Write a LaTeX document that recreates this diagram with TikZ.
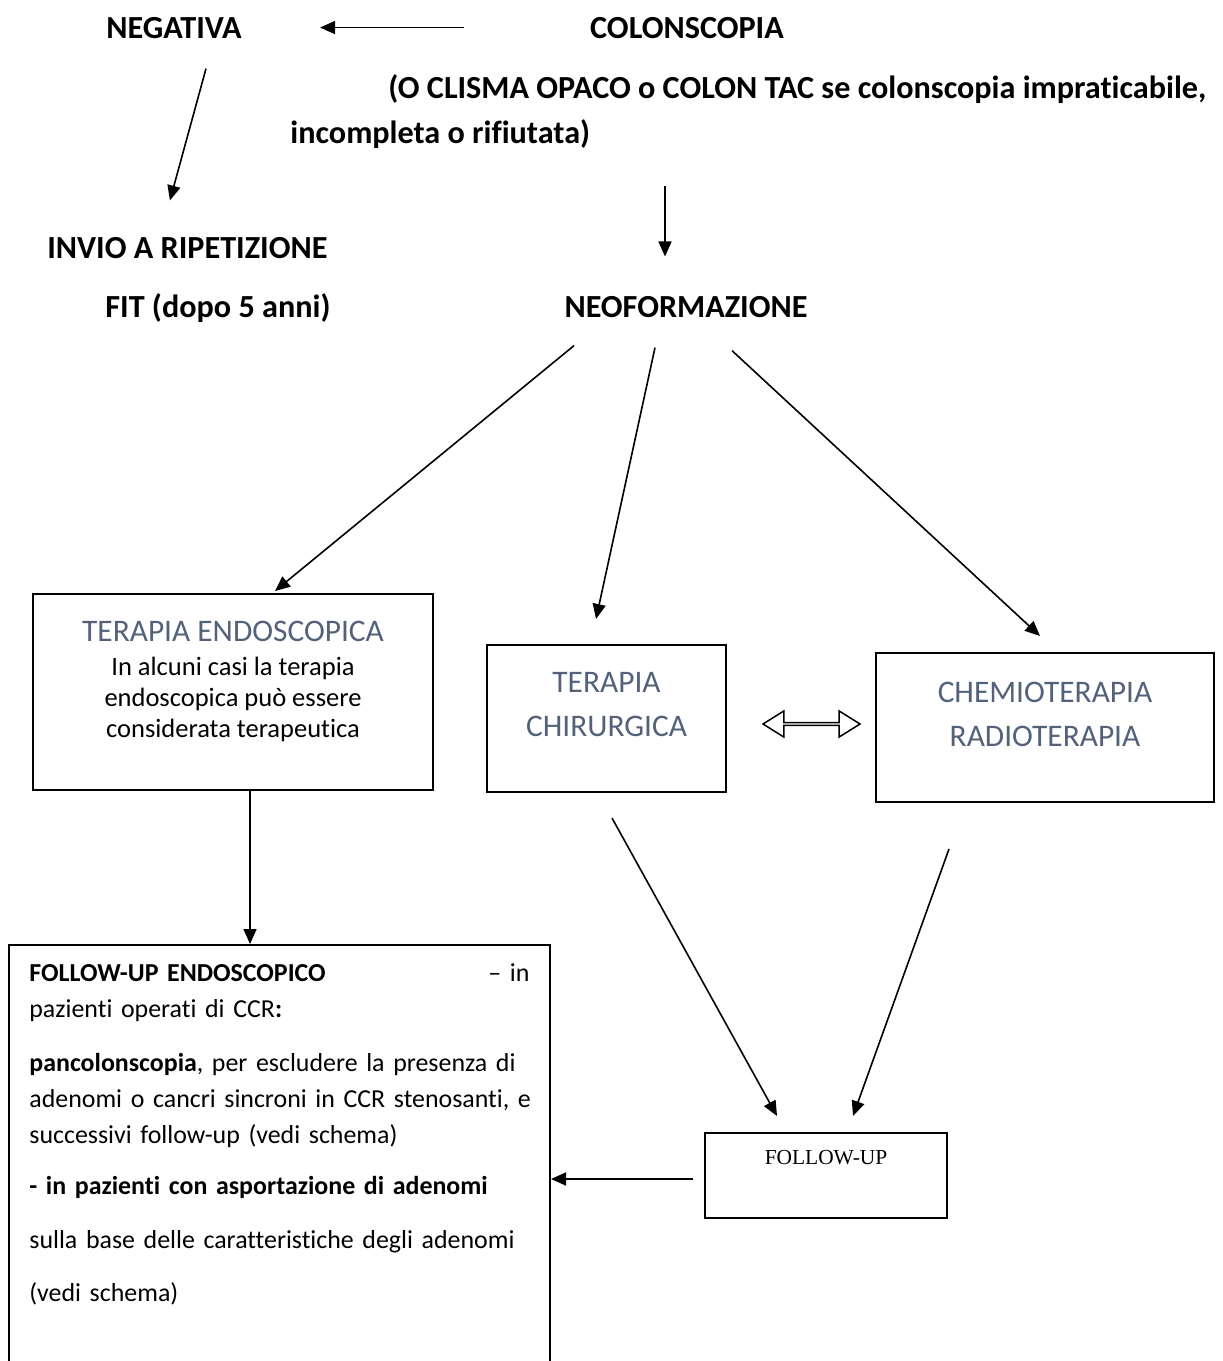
\documentclass[tikz,border=0pt]{standalone}
\usepackage{fontspec}
\setmainfont{Carlito}[Ligatures={NoCommon,NoContextual}]
\newfontfamily\timesfont{Liberation Serif}
\usetikzlibrary{arrows.meta, positioning, shapes.arrows, calc}

\definecolor{slate}{HTML}{53627A}
\newcommand{\headfont}{\fontsize{16.1pt}{19pt}\selectfont\bfseries}
\newcommand{\titlefont}{\fontsize{15.7pt}{22pt}\selectfont}
\newcommand{\bodyfont}{\fontsize{12.95pt}{18pt}\selectfont}
\newcommand{\justline}[1]{\makebox[250pt][s]{#1}}

\begin{document}
\begin{tikzpicture}[x=0.5pt, y=-0.5pt,
    txt/.style={inner sep=0pt},
    head/.style={txt, font=\headfont},
    title/.style={txt, font=\titlefont, text=slate, align=center},
    box/.style={draw, line width=1pt, inner sep=0pt},
    arr/.style={-{Triangle[length=7.5pt,width=6.5pt]}, line width=0.8pt}]
    \clip (0,0) rectangle (1222,1361);

    % Top
    \node[head, anchor=base] (neg) at (174,38) {NEGATIVA};
    \node[head, anchor=base] (colon) at (687,38) {COLONSCOPIA};
    \node[head, anchor=base west] (alt1) at (388,98) {(O CLISMA OPACO o COLON TAC se colonscopia impraticabile,};
    \node[head, anchor=base west] (alt2) at (290,143) {incompleta o rifiutata)};
    \node[head, anchor=base west] (invio) at (47,258) {INVIO A RIPETIZIONE};
    \node[head, anchor=base west] (fit) at (105,317) {FIT (dopo 5 anni)};
    \node[head, anchor=base] (neo) at (686,317) {NEOFORMAZIONE};

    % Boxes
    \node[box, minimum width=200pt, minimum height=98pt] (endo) at (233,692) {};
    \node[box, minimum width=119.5pt, minimum height=73.5pt] (chir) at (606.5,718.5) {};
    \node[box, minimum width=169pt, minimum height=74.5pt] (chemo) at (1045,727.5) {};
    \node[box, minimum width=121pt, minimum height=42.5pt] (fu) at (826,1175.5) {};
    \node[box, minimum width=270.5pt, minimum height=237.5pt] (fuendo) at (279.5,1182.5) {};

    % Box texts
    \node[title, anchor=base] at ($(endo.north)+(0,48)$) {TERAPIA ENDOSCOPICA};
    \node[txt, anchor=north, align=center, font={\fontsize{13.25pt}{15.5pt}\selectfont}]
        at ($(endo.north)+(0,63.5)$) {In alcuni casi la terapia\\endoscopica può essere\\considerata terapeutica};
    \node[title, anchor=north] at ($(chir.north)+(0,28)$) {TERAPIA\\CHIRURGICA};
    \node[title, anchor=north] at ($(chemo.north)+(0,30)$) {CHEMIOTERAPIA\\RADIOTERAPIA};
    \node[txt, anchor=base, font=\timesfont\fontsize{10.7pt}{12pt}\selectfont] at ($(fu.north)+(0,32)$) {FOLLOW-UP};
    \node[txt, anchor=north west, text width=250pt, align=left, font=\bodyfont] at ($(fuendo.north west)+(21,19)$) {%
        \textbf{FOLLOW-UP ENDOSCOPICO}\hfill -- in\\
        pazienti operati di CCR\textbf{:}\\[9pt]
        \justline{\textbf{pancolonscopia}, per escludere la presenza di}\\
        \justline{adenomi o cancri sincroni in CCR stenosanti, e}\\
        successivi follow-up (vedi schema)\\[7.5pt]
        \textbf{- in pazienti con asportazione di adenomi}\\[9pt]
        sulla base delle caratteristiche degli adenomi\\[8.5pt]
        (vedi schema)};

    % Double arrow
    \node[draw, double arrow, line width=0.75pt, inner sep=0pt, minimum height=48.5pt,
        minimum width=13pt, double arrow head extend=3pt, double arrow tip angle=64] (swap) at (811.5,724) {};

    % Arrows
    \draw[arr, shorten <=63pt, shorten >=39pt] (colon.west) -- (neg.east);
    \draw[arr] ($(neg.south)+(32,30)$) -- ($(invio.north)+(-17.5,-36)$);
    \draw[arr] ($(colon.south)+(-22,147)$) -- ($(neo.north)+(-21,-39)$);
    \draw[arr] ($(neo.south)+(-112,28)$) -- ($(endo.north)+(42,-2)$);
    \draw[arr] ($(neo.south)+(-31,30)$) -- ($(chir.north)+(-10.5,-25)$);
    \draw[arr] ($(neo.south)+(46,33)$) -- ($(chemo.north)+(-5,-16)$);
    \draw[arr] ($(endo.south)+(17,0)$) -- ($(endo.south |- fuendo.north)+(17,0)$);
    \draw[arr] ($(chir.south)+(5.5,25)$) -- ($(fu.north)+(-49,-16)$);
    \draw[arr] ($(chemo.south)+(-96,46)$) -- ($(fu.north)+(27,-16)$);
    \draw[arr] ($(fu.west)+(-11,3.5)$) -- ($(fu.west -| fuendo.east)+(0,3.5)$);
\end{tikzpicture}
\end{document}
